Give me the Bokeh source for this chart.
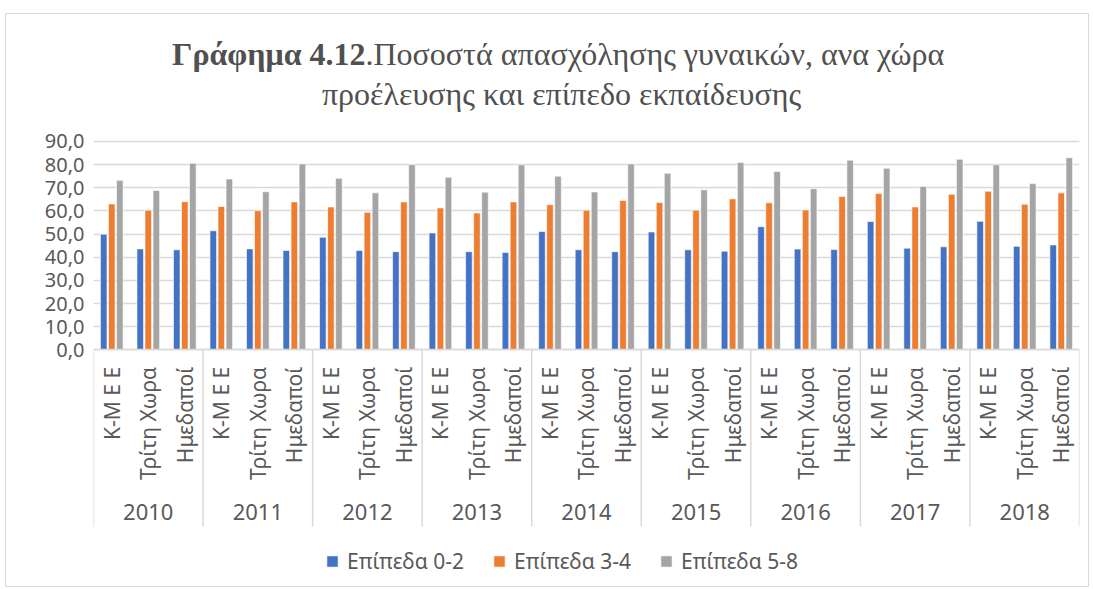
import math
from bokeh.plotting import figure
from bokeh.models import (ColumnDataSource, FactorRange, Range1d, FixedTicker,
                          CustomJSTickFormatter, Legend, LegendItem, Label)
from bokeh.transform import dodge
from bokeh.core.properties import value
from bokeh.embed import file_html
from bokeh.resources import INLINE

years = ["2010", "2011", "2012", "2013", "2014", "2015", "2016", "2017", "2018"]
origins = ["K-M E E", "Τρίτη Χωρα", "Ημεδαποί"]
series_names = ["Επίπεδα 0-2", "Επίπεδα 3-4", "Επίπεδα 5-8"]
colors = ["#4472C4", "#ED7D31", "#A5A5A5"]
y_ticks = [0, 10, 20, 30, 40, 50, 60, 70, 80, 90]

# order: for each year -> K-M E E, Τρίτη Χωρα, Ημεδαποί
level_0_2 = [49.9, 43.6, 43.2,
             51.4, 43.6, 42.9,
             48.6, 42.9, 42.4,
             50.5, 42.4, 42.0,
             51.1, 43.2, 42.4,
             50.9, 43.2, 42.6,
             53.2, 43.5, 43.3,
             55.4, 43.9, 44.5,
             55.5, 44.7, 45.3]
level_3_4 = [63.0, 60.3, 64.0,
             61.9, 60.1, 63.9,
             61.7, 59.4, 63.9,
             61.3, 59.1, 63.9,
             62.7, 60.3, 64.5,
             63.6, 60.3, 65.2,
             63.5, 60.4, 66.2,
             67.5, 61.7, 67.2,
             68.5, 62.9, 67.8]
level_5_8 = [73.2, 68.8, 80.6,
             73.8, 68.3, 80.3,
             74.1, 67.8, 80.0,
             74.5, 68.1, 79.9,
             75.0, 68.2, 80.3,
             76.3, 69.1, 80.9,
             77.0, 69.6, 81.9,
             78.4, 70.6, 82.3,
             79.9, 71.8, 83.0]

title_bold = "Γράφημα 4.12"
title_rest = ".Ποσοστά απασχόλησης γυναικών, ανα χώρα"
title_line2 = "προέλευσης και επίπεδο εκπαίδευσης"

FONT = "Noto Sans"
SERIF = "'Liberation Serif', 'DejaVu Serif', serif"
TXT = "#595959"
GRID = "#D9D9D9"
TITLE_C = "#505050"

# layout constants (data units of the y axis below zero are used for the category band)
Y_TOP, Y_BOTTOM = 144.86, -103.12
SEP_BOTTOM = -76.3
YEAR_Y = -69.9

factors = [(y, o) for y in years for o in origins]
src = ColumnDataSource(dict(x=factors, l02=level_0_2, l34=level_3_4, l58=level_5_8))

p = figure(x_range=FactorRange(*factors, range_padding=0, group_padding=0, subgroup_padding=0),
           y_range=Range1d(Y_BOTTOM, Y_TOP),
           width=1084, height=574, output_backend="svg", toolbar_location=None,
           min_border_left=87, min_border_right=11, min_border_top=0, min_border_bottom=0,
           outline_line_color=None, background_fill_color="white", border_fill_color="white",
           styles={"border": "1px solid #D9D9D9", "margin-left": "5px", "margin-top": "13px"})

# bars
offsets = [-0.22, 0.0, 0.22]
fields = ["l02", "l34", "l58"]
renderers = []
for f, off, c in zip(fields, offsets, colors):
    r = p.vbar(x=dodge("x", off, range=p.x_range), top=f, width=0.18, bottom=0, source=src,
               fill_color=c, line_color="white", line_width=0.6)
    renderers.append(r)

# group separators under the axis
sep_x = [(y, origins[0], -0.5) for y in years] + [(years[-1], origins[-1], 0.5)]
p.segment(x0=sep_x, x1=sep_x, y0=0, y1=SEP_BOTTOM, line_color=GRID, line_width=1.5)

# year (group) labels
p.text(x=years, y=YEAR_Y, text=years, text_font=value(FONT), text_font_size="22px",
       text_color=TXT, text_align="center", text_baseline="middle")

# y axis / grid
p.yaxis.ticker = FixedTicker(ticks=y_ticks)
p.ygrid.ticker = FixedTicker(ticks=y_ticks)
p.yaxis.formatter = CustomJSTickFormatter(code="return tick.toFixed(1).replace('.', ',');")
p.yaxis.axis_line_color = None
p.yaxis.major_tick_line_color = None
p.yaxis.minor_tick_line_color = None
p.yaxis.major_label_text_font = FONT
p.yaxis.major_label_text_font_size = "20px"
p.yaxis.major_label_text_color = TXT
p.yaxis.major_label_standoff = 3
p.ygrid.grid_line_color = GRID
p.ygrid.grid_line_width = 1.5
p.xgrid.grid_line_color = None

# x axis
xa = p.xaxis[0]
xa.fixed_location = 0
xa.axis_line_color = GRID
xa.axis_line_width = 1.5
xa.major_tick_line_color = None
xa.minor_tick_line_color = None
xa.separator_line_color = None
xa.major_label_orientation = math.pi / 2
xa.major_label_text_font = FONT
xa.major_label_text_font_size = "21px"
xa.major_label_text_color = TXT
xa.major_label_standoff = 11
xa.group_text_color = None

# legend
legend = Legend(items=[LegendItem(label=n, renderers=[r]) for n, r in zip(series_names, renderers)],
                location=(232, 13), orientation="horizontal",
                label_text_font=FONT, label_text_font_size="21px", label_text_color=TXT,
                glyph_width=14, glyph_height=14, spacing=28, label_standoff=8,
                padding=0, margin=0, border_line_color=None, background_fill_alpha=0)
p.add_layout(legend)

# title
p.add_layout(Label(x=272, y=535, x_units="screen", y_units="screen", text=title_bold,
                   text_font=SERIF, text_font_size="32px", text_font_style="bold",
                   text_color=TITLE_C, text_align="right", text_baseline="middle"))
p.add_layout(Label(x=272, y=535, x_units="screen", y_units="screen", text=title_rest,
                   text_font=SERIF, text_font_size="32px", text_color=TITLE_C,
                   text_align="left", text_baseline="middle"))
p.add_layout(Label(x=468, y=495, x_units="screen", y_units="screen", text=title_line2,
                   text_font=SERIF, text_font_size="32px", text_color=TITLE_C,
                   text_align="center", text_baseline="middle"))

open("out.html", "w").write(file_html(p, INLINE))
